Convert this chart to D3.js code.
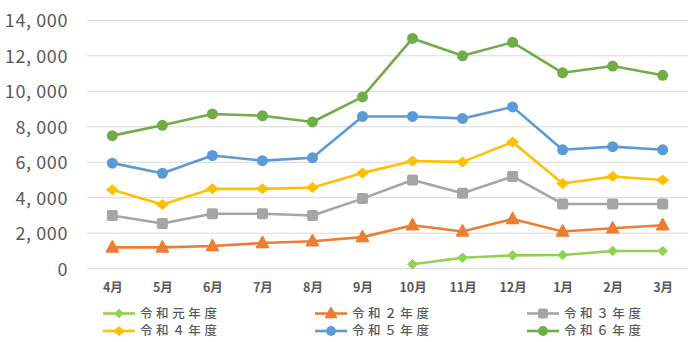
<!DOCTYPE html>
<html><head><meta charset="utf-8">
<script src="https://cdn.jsdelivr.net/npm/d3@7"></script>
<style>
html,body{margin:0;padding:0;background:#fff;}
svg{display:block;}
</style></head>
<body>
<svg id="chart" width="690" height="342"></svg>
<script>
const months = ["4月","5月","6月","7月","8月","9月","10月","11月","12月","1月","2月","3月"];
const yTicks = [0,2000,4000,6000,8000,10000,12000,14000];
const seriesNames = ["令和元年度","令和２年度","令和３年度","令和４年度","令和５年度","令和６年度"];
const r1 = [null,null,null,null,null,null,250,620,750,770,1000,1000];
const r2 = [1200,1200,1280,1450,1550,1780,2450,2100,2800,2100,2280,2450];
const r3 = [3000,2550,3100,3100,3000,3950,5000,4250,5200,3650,3650,3650];
const r4 = [4450,3620,4500,4500,4580,5400,6070,6020,7140,4800,5200,5000];
const r5 = [5950,5380,6380,6090,6250,8580,8580,8470,9120,6700,6880,6700];
const r6 = [7500,8080,8720,8620,8270,9680,12980,12000,12760,11040,11420,10900];
const values = [r1,r2,r3,r4,r5,r6];
const colors = ["#92D050","#ED7D31","#A5A5A5","#FFC000","#5B9BD5","#70AD47"];
const markers = ["smalldiamond","triangle","square","diamond","circle","circle"];

const svg = d3.select("#chart");
const x = d3.scalePoint().domain(months).range([87.3,687.7]).padding(0.5);
const y = d3.scaleLinear().domain([0,14000]).range([268.7,20.3]);
const grey = "#595959";
const fmt = v => d3.format(",")(v).replace(",", ", ");

// gridlines
svg.append("g").selectAll("line").data(yTicks).join("line")
  .attr("x1",87).attr("x2",688)
  .attr("y1",d=>y(d)).attr("y2",d=>y(d))
  .attr("stroke","#D9D9D9").attr("stroke-width",1);

// y axis labels
const yAxis = d3.axisLeft(y).tickValues(yTicks).tickFormat(fmt).tickSize(0).tickPadding(0);
const yg = svg.append("g").attr("transform","translate(68,0)").call(yAxis);
yg.select(".domain").remove();
yg.selectAll("text").attr("fill",grey)
  .style("font-family","'Noto Sans CJK JP','Noto Sans',sans-serif")
  .style("font-size","18px").style("letter-spacing","0.6px").style("white-space","pre")
  .attr("dy","0.35em");

// x axis labels
const xAxis = d3.axisBottom(x).tickSize(0).tickPadding(0);
const xg = svg.append("g").attr("transform","translate(0,287.5)").call(xAxis);
xg.select(".domain").remove();
xg.selectAll("text").attr("fill",grey).attr("dy","0.35em").attr("y",0)
  .style("font-family","'Noto Sans CJK JP','Noto Sans',sans-serif")
  .style("font-size","12.5px").style("font-weight","bold");

function drawMarker(g, type, color, scale) {
  const s = scale || 1;
  if (type==="circle") {
    g.append("circle").attr("r",5.5*s).attr("fill",color);
  } else if (type==="square") {
    g.append("rect").attr("x",-5.5*s).attr("y",-5.5*s).attr("width",11*s).attr("height",11*s)
      .attr("rx",2).attr("fill",color);
  } else if (type==="triangle") {
    g.append("path").attr("d",`M0,${-6.5*s}L${6*s},${4.5*s}L${-6*s},${4.5*s}Z`).attr("fill",color)
      .attr("stroke",color).attr("stroke-width",1.5).attr("stroke-linejoin","round");
  } else if (type==="diamond") {
    g.append("path").attr("d",`M0,${-5.5*s}L${6.5*s},0L0,${5.5*s}L${-6.5*s},0Z`).attr("fill",color);
  } else if (type==="smalldiamond") {
    g.append("path").attr("d",`M0,${-4.8*s}L${4.8*s},0L0,${4.8*s}L${-4.8*s},0Z`).attr("fill",color)
      .attr("stroke",color).attr("stroke-width",1);
  }
}

const line = d3.line().defined(d=>d.v!=null).x(d=>x(d.m)).y(d=>y(d.v));
values.forEach((vals,i)=>{
  const pts = vals.map((v,j)=>({m:months[j],v:v}));
  const g = svg.append("g");
  g.append("path").datum(pts).attr("d",line).attr("fill","none")
    .attr("stroke",colors[i]).attr("stroke-width",2.6).attr("stroke-linejoin","round");
  pts.filter(d=>d.v!=null).forEach(d=>{
    const mg = g.append("g").attr("transform",`translate(${x(d.m)},${y(d.v)})`);
    drawMarker(mg, markers[i], colors[i]);
  });
});

// legend
const legX = [103,315,527];
const legY = [313.5,331];
seriesNames.forEach((name,i)=>{
  const col = i%3, row = Math.floor(i/3);
  const g = svg.append("g").attr("transform",`translate(${legX[col]},${legY[row]})`);
  g.append("line").attr("x1",0).attr("x2",32).attr("stroke",colors[i]).attr("stroke-width",2.6);
  const mg = g.append("g").attr("transform","translate(16,0)");
  drawMarker(mg, markers[i], colors[i], 0.9);
  g.append("text").attr("x",37).attr("dy","0.35em").text(name).attr("fill",grey)
    .style("font-family","'Noto Sans CJK JP',sans-serif").style("font-size","12.5px")
    .style("letter-spacing","3.6px").style("font-weight","500");
});
</script>
</body></html>
